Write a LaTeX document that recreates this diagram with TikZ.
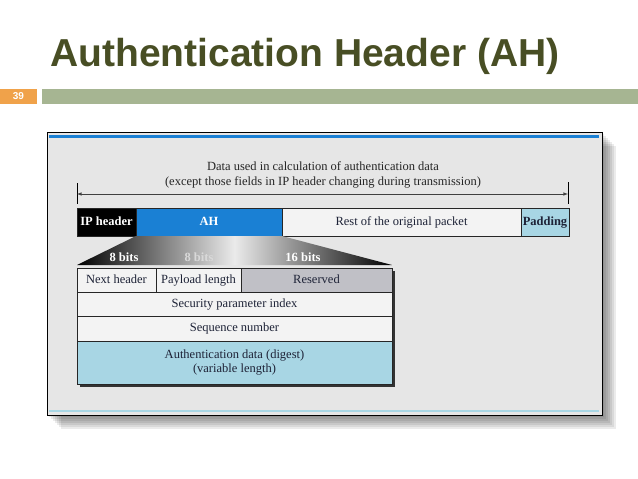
\documentclass[tikz,border=0pt]{standalone}
\usepackage{fontspec}
\setmainfont{Liberation Serif}
\newfontfamily\slidefont{Liberation Sans}
\usetikzlibrary{positioning}
\definecolor{titlegreen}{RGB}{72,78,36}
\definecolor{barorange}{RGB}{240,162,74}
\definecolor{bargreen}{RGB}{166,181,146}
\definecolor{panelgray}{RGB}{230,230,230}
\definecolor{ahblue}{RGB}{26,128,212}
\definecolor{padblue}{RGB}{168,214,228}
\definecolor{cellwhite}{RGB}{243,243,243}
\definecolor{resgray}{RGB}{192,192,198}
\definecolor{navytext}{RGB}{30,35,55}
\tikzset{
  field/.style={draw=black!85,line width=0.8pt,minimum height=28pt,inner sep=0pt,outer sep=0pt,
    text height=8.5pt,text depth=2.5pt,font=\fontsize{12.5}{14}\selectfont},
  cell/.style={draw=black!85,line width=0.8pt,minimum height=24pt,inner sep=0pt,outer sep=0pt,
    anchor=north west,fill=cellwhite,text=navytext,font=\fontsize{12.5}{14.5}\selectfont},
  bits/.style={text=white,font=\bfseries\fontsize{12.5}{14}\selectfont}
}
\begin{document}
\begin{tikzpicture}[x=1pt,y=-1pt]
    \useasboundingbox (0,0) rectangle (638,479);
    % slide title and bar
    \node[anchor=base west,inner sep=0pt,text=titlegreen,font=\slidefont\bfseries\fontsize{39}{40}\selectfont]
      (title) at (50,66) {Authentication Header (AH)};
    \fill[barorange] (0,89) rectangle (37,104);
    \fill[bargreen] (42,89) rectangle (638,104);
    \node[text=white,font=\slidefont\bfseries\fontsize{10}{11}\selectfont] (page) at (18.5,96.5) {39};
    % panel with shadow
    \foreach \d in {2,4,...,14}
      \fill[black,opacity=0.08] (47+\d,132+\d) rectangle (602+\d,415+\d);
    \fill[panelgray] (47,132) rectangle (602,415);
    \draw[ahblue,line width=3pt] (49,136) -- (599,136);
    \draw[padblue,line width=1.5pt] (49,411) -- (599,411);
    \draw[line width=0.8pt] (47,132) rectangle (602,415);
    % covered range
    \node[align=center,text=black!85,font=\fontsize{12.5}{15}\selectfont] (range) at (323,175)
      {Data used in calculation of authentication data\\(except those fields in IP header changing during transmission)};
    \coordinate (lt) at (77,183); \coordinate (lb) at (77,204);
    \coordinate (rt) at (568,182); \coordinate (rb) at (568,204);
    \coordinate (la) at (77,194); \coordinate (ra) at (568,194);
    \draw[line width=0.8pt] (lt) -- (lb);
    \draw[line width=0.8pt] (rt) -- (rb);
    \draw[<->,>=latex,line width=0.6pt,black!75] (la) -- (ra);
    % packet
    \node[field,anchor=west,fill=black,text=white,font=\bfseries\fontsize{12.5}{14}\selectfont,minimum width=59pt]
      (ip) at (77,222) {IP header};
    \node[field,fill=ahblue,text=white,font=\bfseries\fontsize{12.5}{14}\selectfont,minimum width=146pt,right=0pt of ip]
      (ah) {AH};
    \node[field,fill=cellwhite,text=navytext,minimum width=239pt,right=0pt of ah] (rest) {Rest of the original packet};
    \node[field,fill=padblue,text=navytext,font=\bfseries\fontsize{12.5}{14}\selectfont,minimum width=48pt,right=0pt of rest]
      (pad) {Padding};
    % expansion of AH
    \shade[left color=black,right color=black,middle color=black!8] (ah.south west) -- (ah.south east) -- (392,265) -- (77,265) -- cycle;
    \node[bits] (b1) at (124,257) {8 bits};
    \node[bits,text=white!85!black] (b2) at (199,257) {8 bits};
    \node[bits] (b3) at (303,257) {16 bits};
    % AH fields
    \fill[black!80] (80,271) rectangle (395,387);
    \node[cell,minimum width=79pt,text height=8.5pt,text depth=2.5pt] (nh) at (77,268) {Next header};
    \node[cell,minimum width=85pt,text height=8.5pt,text depth=2.5pt,anchor=west,right=0pt of nh] (pl) {Payload length};
    \node[cell,minimum width=151pt,text height=8.5pt,text depth=2.5pt,anchor=west,fill=resgray,right=0pt of pl] (res) {Reserved};
    \node[cell,minimum width=315pt,text height=8.5pt,text depth=2.5pt] (spi) at (nh.south west) {Security parameter index};
    \node[cell,minimum width=315pt,minimum height=25pt,text height=8.5pt,text depth=2.5pt] (seq) at (spi.south west) {Sequence number};
    \node[cell,minimum width=315pt,minimum height=43pt,fill=padblue,align=center] (auth) at (seq.south west)
      {Authentication data (digest)\\(variable length)};
  \end{tikzpicture}
\end{document}
